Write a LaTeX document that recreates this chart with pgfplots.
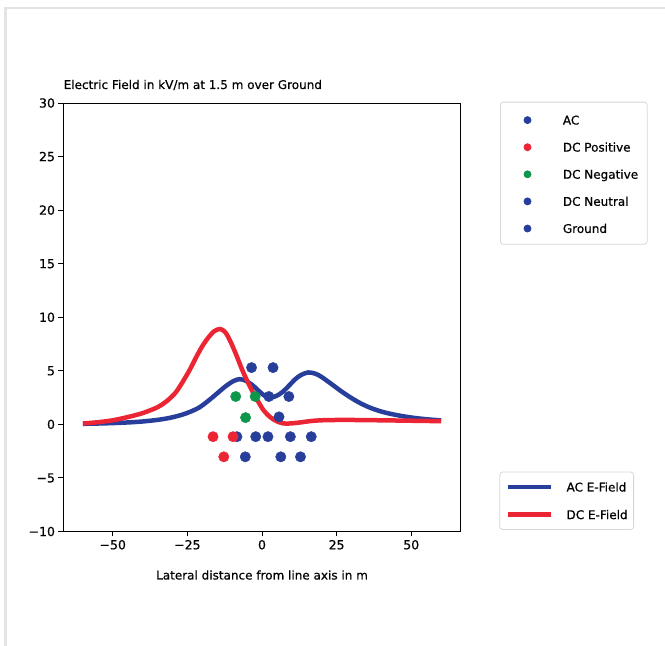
\documentclass[border=0pt]{standalone}
\usepackage{fontspec}
\setmainfont{DejaVu Sans}[UprightFeatures={FakeBold=0.6}]
\usepackage{pgfplots}
\pgfplotsset{compat=1.18}
\definecolor{acblue}{RGB}{40,62,155}
\definecolor{dcred}{RGB}{235,37,52}
\definecolor{dcgreen}{RGB}{14,150,75}
\definecolor{framegray}{RGB}{228,228,228}
\definecolor{leggray}{RGB}{215,215,215}
\newcommand{\lblfont}{\fontsize{12}{14}\selectfont}
\newcommand{\tickfont}{\fontsize{12.5}{14}\selectfont}
\begin{document}
\begin{tikzpicture}
\useasboundingbox (0,0) rectangle (665pt,646pt);
\draw[framegray, line width=2.5pt] (5.3pt,0pt) -- (5.3pt,638pt) -- (665pt,638pt);
% ---- axis A: frame, curves, line legend
\begin{axis}[
  at={(63.5pt,114.5pt)}, anchor=south west,
  scale only axis, width=397pt, height=428.5pt,
  xmin=-66.5, xmax=66.5, ymin=-10, ymax=30,
  xtick={-50,-25,0,25,50}, xticklabels={−50,−25,0,25,50},
  ytick={-10,-5,0,5,10,15,20,25,30}, yticklabels={−10,−5,0,5,10,15,20,25,30},
  tick align=outside, major tick length=5pt,
  xtick pos=bottom, ytick pos=left,
  axis line style={line width=0.9pt},
  every tick/.style={line width=0.9pt, black},
  ticklabel style={font=\tickfont},
  title={Electric Field in kV/m at 1.5 m over Ground},
  title style={at={(axis description cs:0,1)}, anchor=base west, yshift=8pt, inner sep=0pt, font=\lblfont},
  xlabel={Lateral distance from line axis in m},
  xlabel style={at={(axis description cs:0.5,0)}, anchor=base, yshift=-48pt, inner sep=0pt, font=\lblfont},
  legend cell align=left,
  legend image code/.code={\draw[#1, line cap=butt] (0pt,0pt) -- (43pt,0pt);},
  legend style={at={(1.0977,0.1396)}, anchor=north west, draw=leggray, line width=0.8pt,
    rounded corners=3pt, inner xsep=6pt, inner ysep=10.4pt, row sep=18.6pt,
    font=\lblfont, nodes={inner sep=0pt, text height=9pt, text depth=0pt},
    /tikz/every odd column/.append style={column sep=13.4pt}},
]
\addplot[acblue, line width=4.5pt, smooth] coordinates {
(-60,0.05) (-55,0.08) (-50,0.12) (-45,0.18) (-40,0.27) (-35,0.42) (-31,0.6)
(-27,0.88) (-24,1.18) (-21,1.58) (-18,2.2) (-15,2.9) (-12,3.6) (-9.5,4.05)
(-7.5,4.22) (-5.5,4.08) (-3,3.62) (-1,3.1) (1,2.65) (3,2.5) (5,2.68) (7,3.05)
(9,3.6) (11,4.18) (13,4.6) (15.5,4.85) (18,4.72) (20,4.42) (23,3.82) (26.5,3.1)
(30,2.45) (33,1.97) (36,1.58) (39,1.28) (42,1.05) (46,0.82) (50,0.64) (55,0.48) (60,0.37)};
\addlegendentry{AC E-Field}
\addplot[dcred, line width=4.5pt, smooth] coordinates {
(-60,0.08) (-55,0.2) (-50,0.38) (-45,0.68) (-40,1.05) (-35,1.6) (-32,2.15) (-29,2.95)
(-26.5,4.0) (-24,5.2) (-22,6.3) (-20,7.3) (-18,8.1) (-16,8.7) (-14,8.9) (-12.3,8.6)
(-10.5,7.7) (-8.5,6.4) (-6.8,5.2) (-5.2,4.2) (-3.8,3.4) (-2.4,2.65) (-1,2.0)
(0.3,1.4) (1.7,0.95) (3.1,0.6) (5,0.28) (7,0.1) (9,0.08) (12.5,0.17) (17,0.33)
(22,0.4) (30,0.41) (40,0.38) (50,0.34) (60,0.3)};
\addlegendentry{DC E-Field}
\end{axis}
% ---- axis B: conductor positions, marker legend
\begin{axis}[
  at={(63.5pt,114.5pt)}, anchor=south west,
  scale only axis, width=397pt, height=428.5pt,
  xmin=-66.5, xmax=66.5, ymin=-10, ymax=30,
  hide axis,
  legend cell align=left,
  legend image code/.code={\path (0pt,0pt) (21.2pt,0pt); \fill[#1] (17.7pt,-1.1pt) circle (3.5pt);},
  legend style={at={(1.0995,1.003)}, anchor=north west, draw=leggray, line width=0.8pt,
    rounded corners=3pt, inner xsep=9pt, inner ysep=11.4pt, row sep=16.1pt,
    font=\lblfont, nodes={inner sep=0pt, text height=11pt, text depth=0pt},
    /tikz/every odd column/.append style={column sep=31.5pt}},
  every axis plot/.append style={only marks, mark=*, mark size=5.2pt, mark options={draw=none}},
]
\addplot[acblue] coordinates {(-8.4,-1.15) (-2.1,-1.15) (2.0,-1.15) (9.5,-1.15) (16.5,-1.15)
 (-5.6,-3.03) (6.3,-3.03) (12.9,-3.03) (2.3,2.6) (9.0,2.6) (5.7,0.7)};
\addlegendentry{AC}
\addplot[dcred] coordinates {(-16.4,-1.15) (-9.7,-1.15) (-12.8,-3.03)};
\addlegendentry{DC Positive}
\addplot[dcgreen] coordinates {(-8.8,2.6) (-2.3,2.6) (-5.5,0.63)};
\addlegendentry{DC Negative}
\addplot[acblue] coordinates {(-3.5,5.3)};
\addlegendentry{DC Neutral}
\addplot[acblue] coordinates {(3.7,5.3)};
\addlegendentry{Ground}
\end{axis}
\end{tikzpicture}
\end{document}
